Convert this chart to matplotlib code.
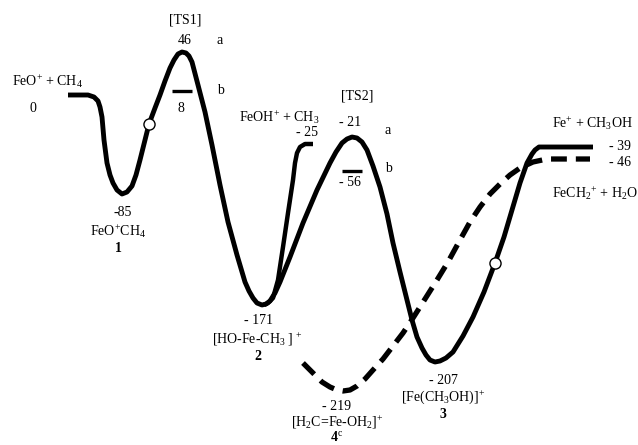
import matplotlib
matplotlib.use("Agg")
import matplotlib.pyplot as plt

plt.rcParams['font.family'] = ['Liberation Serif', 'DejaVu Serif']
plt.rcParams['mathtext.fontset'] = 'custom'
plt.rcParams['mathtext.rm'] = 'Liberation Serif'
plt.rcParams['mathtext.it'] = 'Liberation Serif:italic'
plt.rcParams['mathtext.bf'] = 'Liberation Serif:bold'

# Diagram traced in picture units (x to the right, y downwards)
# main path: FeO+ + CH4 -> 1 -> TS1 -> 2 -> TS2 -> 3 -> Fe+ + CH3OH
main_x = [68, 88, 94, 98, 100, 102, 104, 107, 110, 113, 117, 122, 127, 132, 136, 140, 145, 149,
          155, 160, 165, 170, 174, 178, 182, 186, 189, 192, 198, 205, 212, 220, 228, 237, 245,
          249, 253, 257, 262, 266, 270, 275, 280, 290, 303, 317, 330, 336, 342, 347, 352, 357,
          362, 367, 373, 380, 387, 393, 400, 407, 412, 417, 422, 426, 430, 435, 440, 446, 453,
          463, 473, 484, 495, 504, 512, 520, 527, 532, 535, 539, 545, 593]
main_y = [95, 95, 97, 101, 107, 117, 140, 163, 175, 183, 190, 194, 192, 186, 175, 160, 140, 124,
          108, 95, 81, 68, 60, 54, 52, 53, 56, 62, 85, 112, 145, 185, 222, 255, 282,
          291, 298, 303, 305, 304, 301, 293, 282, 257, 223, 190, 163, 152, 143, 139, 137, 138,
          142, 150, 166, 187, 214, 243, 272, 300, 320, 337, 348, 355, 360, 362, 361, 358, 352,
          336, 317, 292, 263, 237, 210, 183, 163, 154, 150, 147, 147, 147]

# branch 2 -> FeOH+ + CH3
branch_x = [264, 268, 273, 278, 283, 288, 293, 295, 297, 300, 305, 313]
branch_y = [305, 303, 298, 280, 247, 213, 180, 163, 153, 147, 144, 144]

# dashed path: 4c -> FeCH2+ + H2O
dash_x = [303, 313, 322, 330, 337, 343, 350, 357, 365, 373, 383, 393, 403, 413, 425, 437, 448,
          460, 470, 480, 490, 500, 510, 520, 533, 547, 590]
dash_y = [363, 373, 382, 387, 390, 391, 390, 386, 379, 370, 359, 346, 333, 318, 299, 280, 262,
          240, 222, 207, 194, 184, 175, 168, 162, 159, 159]

# open circles (crossing points)
circ_x = [149, 495]
circ_y = [124, 263]

# short levels "b" at the transition states
bar_x0 = [172, 342]
bar_x1 = [192, 362]
bar_y = [91, 171]

fig = plt.figure(figsize=(6.38, 4.45), dpi=100)
ax = fig.add_axes([0, 0, 1, 1])
ax.set_xlim(0, 638)
ax.set_ylim(445, 0)
ax.axis('off')

ax.plot(main_x, main_y, color='black', lw=3.5, solid_capstyle='butt', solid_joinstyle='round')
ax.plot(branch_x, branch_y, color='black', lw=3.2, solid_capstyle='butt', solid_joinstyle='round')
ax.plot(dash_x, dash_y, color='black', lw=3.8, dashes=(3.0, 1.7), dash_capstyle='butt',
        dash_joinstyle='round')
for x0, x1, y in zip(bar_x0, bar_x1, bar_y):
    ax.plot([x0, x1], [y, y], color='black', lw=2.4, solid_capstyle='butt')
ax.plot(circ_x, circ_y, 'o', ms=8, mfc='white', mec='black', mew=1.0, zorder=5)

fs = 10
def t(x, y, s, ha='center', **kw):
    ax.text(x, y, s, ha=ha, va='center', fontsize=fs, **kw)

t(12, 81, r'FeO$^{+}$ + CH$_4$', ha='left')
t(33, 108, '0')
t(185, 20, '[TS1]')
t(185, 40, '46')
t(220, 40, 'a')
t(220, 90, 'b')
t(181, 108, '8')
t(279, 117, r'FeOH$^{+}$ + CH$_3$')
t(318, 133, '- 25', ha='right')
t(357, 96, '[TS2]')
t(350, 122, '- 21')
t(388, 131, 'a')
t(388, 168, 'b')
t(350, 183, '- 56')
t(552, 123, r'Fe$^{+}$ + CH$_3$OH', ha='left')
t(620, 147, '- 39')
t(620, 163, '- 46')
t(552, 193, r'FeCH$_2$$^{+}$ + H$_2$O', ha='left')
t(123, 213, '-85')
t(118, 231, r'FeO$^{+}$CH$_4$')
t(118, 249, '1', fontweight='bold')
t(258, 321, '- 171')
t(257, 339, r'[HO-Fe-CH$_3$ ]$^{\,+}$')
t(258, 357, '2', fontweight='bold')
t(337, 406, '- 219')
t(337, 422, r'[H$_2$C=Fe-OH$_2$]$^{+}$')
t(337, 437, r'$\mathbf{4}^{\mathrm{c}}$')
t(443, 380, '- 207')
t(443, 397, r'[Fe(CH$_3$OH)]$^{+}$')
t(443, 414, '3', fontweight='bold')

fig.savefig('out.png', dpi=100)
